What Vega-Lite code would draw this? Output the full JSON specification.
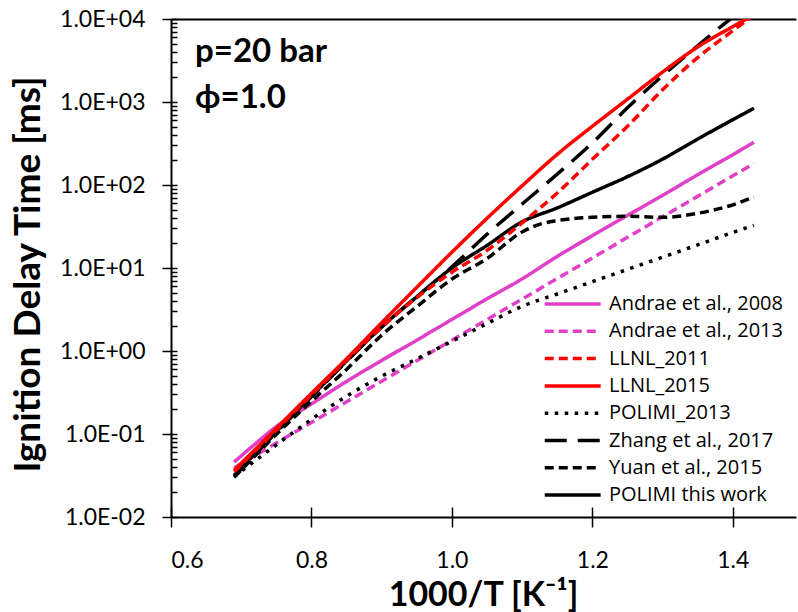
{
  "$schema": "https://vega.github.io/schema/vega-lite/v6.json",
  "width": 625,
  "height": 498,
  "autosize": {"type": "none"},
  "padding": {"left": 171, "top": 19, "right": 2, "bottom": 95},
  "background": "white",
  "config": {"view": {"stroke": null}, "font": "Lato", "axis": {"grid": false}},
  "title": {
    "text": "p=20 bar",
    "subtitle": "ϕ=1.0",
    "anchor": "start",
    "frame": "group",
    "orient": "top",
    "font": "Lato",
    "fontSize": 33,
    "fontWeight": "bold",
    "color": "black",
    "subtitleFont": "Lato",
    "subtitleFontSize": 33,
    "subtitleFontWeight": "bold",
    "subtitleColor": "black",
    "subtitlePadding": 13,
    "dx": 24,
    "offset": -116
  },
  "data": {
    "values": [
      {"s": "Andrae et al., 2008", "x": 0.69, "y": 0.046},
      {"s": "Andrae et al., 2008", "x": 0.7175, "y": 0.073},
      {"s": "Andrae et al., 2008", "x": 0.75, "y": 0.123},
      {"s": "Andrae et al., 2008", "x": 0.8, "y": 0.23},
      {"s": "Andrae et al., 2008", "x": 0.85, "y": 0.43},
      {"s": "Andrae et al., 2008", "x": 0.9, "y": 0.77},
      {"s": "Andrae et al., 2008", "x": 0.95, "y": 1.35},
      {"s": "Andrae et al., 2008", "x": 1.0, "y": 2.4},
      {"s": "Andrae et al., 2008", "x": 1.05, "y": 4.25},
      {"s": "Andrae et al., 2008", "x": 1.1, "y": 7.4},
      {"s": "Andrae et al., 2008", "x": 1.15, "y": 13.8},
      {"s": "Andrae et al., 2008", "x": 1.2, "y": 24.5},
      {"s": "Andrae et al., 2008", "x": 1.25, "y": 43},
      {"s": "Andrae et al., 2008", "x": 1.3, "y": 75},
      {"s": "Andrae et al., 2008", "x": 1.35, "y": 133},
      {"s": "Andrae et al., 2008", "x": 1.4, "y": 232},
      {"s": "Andrae et al., 2008", "x": 1.43, "y": 327},

      {"s": "Andrae et al., 2013", "x": 0.69, "y": 0.039},
      {"s": "Andrae et al., 2013", "x": 0.75, "y": 0.078},
      {"s": "Andrae et al., 2013", "x": 0.8, "y": 0.138},
      {"s": "Andrae et al., 2013", "x": 0.85, "y": 0.244},
      {"s": "Andrae et al., 2013", "x": 0.9, "y": 0.433},
      {"s": "Andrae et al., 2013", "x": 0.95, "y": 0.764},
      {"s": "Andrae et al., 2013", "x": 1.0, "y": 1.35},
      {"s": "Andrae et al., 2013", "x": 1.05, "y": 2.39},
      {"s": "Andrae et al., 2013", "x": 1.1, "y": 4.22},
      {"s": "Andrae et al., 2013", "x": 1.15, "y": 7.47},
      {"s": "Andrae et al., 2013", "x": 1.2, "y": 13.2},
      {"s": "Andrae et al., 2013", "x": 1.25, "y": 23.4},
      {"s": "Andrae et al., 2013", "x": 1.3, "y": 41.4},
      {"s": "Andrae et al., 2013", "x": 1.35, "y": 73},
      {"s": "Andrae et al., 2013", "x": 1.4, "y": 129},
      {"s": "Andrae et al., 2013", "x": 1.43, "y": 181},

      {"s": "POLIMI_2013", "x": 0.69, "y": 0.0307},
      {"s": "POLIMI_2013", "x": 0.75, "y": 0.074},
      {"s": "POLIMI_2013", "x": 0.8, "y": 0.15},
      {"s": "POLIMI_2013", "x": 0.85, "y": 0.285},
      {"s": "POLIMI_2013", "x": 0.9, "y": 0.497},
      {"s": "POLIMI_2013", "x": 0.95, "y": 0.803},
      {"s": "POLIMI_2013", "x": 1.0, "y": 1.31},
      {"s": "POLIMI_2013", "x": 1.05, "y": 2.14},
      {"s": "POLIMI_2013", "x": 1.1, "y": 3.46},
      {"s": "POLIMI_2013", "x": 1.15, "y": 4.86},
      {"s": "POLIMI_2013", "x": 1.2, "y": 6.84},
      {"s": "POLIMI_2013", "x": 1.25, "y": 9.62},
      {"s": "POLIMI_2013", "x": 1.3, "y": 13.5},
      {"s": "POLIMI_2013", "x": 1.35, "y": 19},
      {"s": "POLIMI_2013", "x": 1.4, "y": 26.8},
      {"s": "POLIMI_2013", "x": 1.43, "y": 32.7},

      {"s": "Yuan et al., 2015", "x": 0.69, "y": 0.03},
      {"s": "Yuan et al., 2015", "x": 0.75, "y": 0.099},
      {"s": "Yuan et al., 2015", "x": 0.8, "y": 0.248},
      {"s": "Yuan et al., 2015", "x": 0.85, "y": 0.6},
      {"s": "Yuan et al., 2015", "x": 0.9, "y": 1.55},
      {"s": "Yuan et al., 2015", "x": 0.95, "y": 3.42},
      {"s": "Yuan et al., 2015", "x": 1.0, "y": 7.36},
      {"s": "Yuan et al., 2015", "x": 1.05, "y": 13},
      {"s": "Yuan et al., 2015", "x": 1.1, "y": 27.2},
      {"s": "Yuan et al., 2015", "x": 1.125, "y": 33.6},
      {"s": "Yuan et al., 2015", "x": 1.15, "y": 37.3},
      {"s": "Yuan et al., 2015", "x": 1.2, "y": 40.8},
      {"s": "Yuan et al., 2015", "x": 1.25, "y": 42},
      {"s": "Yuan et al., 2015", "x": 1.3, "y": 40.8},
      {"s": "Yuan et al., 2015", "x": 1.35, "y": 45.6},
      {"s": "Yuan et al., 2015", "x": 1.4, "y": 57.7},
      {"s": "Yuan et al., 2015", "x": 1.43, "y": 71.6},

      {"s": "POLIMI this work", "x": 0.69, "y": 0.0318},
      {"s": "POLIMI this work", "x": 0.75, "y": 0.108},
      {"s": "POLIMI this work", "x": 0.8, "y": 0.285},
      {"s": "POLIMI this work", "x": 0.85, "y": 0.76},
      {"s": "POLIMI this work", "x": 0.9, "y": 1.95},
      {"s": "POLIMI this work", "x": 0.95, "y": 4.5},
      {"s": "POLIMI this work", "x": 1.0, "y": 10},
      {"s": "POLIMI this work", "x": 1.05, "y": 18.7},
      {"s": "POLIMI this work", "x": 1.1, "y": 36},
      {"s": "POLIMI this work", "x": 1.15, "y": 53},
      {"s": "POLIMI this work", "x": 1.2, "y": 81.7},
      {"s": "POLIMI this work", "x": 1.25, "y": 126},
      {"s": "POLIMI this work", "x": 1.3, "y": 205},
      {"s": "POLIMI this work", "x": 1.35, "y": 358},
      {"s": "POLIMI this work", "x": 1.4, "y": 612},
      {"s": "POLIMI this work", "x": 1.43, "y": 840},

      {"s": "Zhang et al., 2017", "x": 0.69, "y": 0.031},
      {"s": "Zhang et al., 2017", "x": 0.75, "y": 0.105},
      {"s": "Zhang et al., 2017", "x": 0.8, "y": 0.28},
      {"s": "Zhang et al., 2017", "x": 0.85, "y": 0.75},
      {"s": "Zhang et al., 2017", "x": 0.9, "y": 1.95},
      {"s": "Zhang et al., 2017", "x": 0.95, "y": 4.5},
      {"s": "Zhang et al., 2017", "x": 1.0, "y": 10.3},
      {"s": "Zhang et al., 2017", "x": 1.05, "y": 25.5},
      {"s": "Zhang et al., 2017", "x": 1.1, "y": 59},
      {"s": "Zhang et al., 2017", "x": 1.15, "y": 135},
      {"s": "Zhang et al., 2017", "x": 1.2, "y": 322},
      {"s": "Zhang et al., 2017", "x": 1.25, "y": 851},
      {"s": "Zhang et al., 2017", "x": 1.3, "y": 2075},
      {"s": "Zhang et al., 2017", "x": 1.35, "y": 4764},
      {"s": "Zhang et al., 2017", "x": 1.4, "y": 10500},
      {"s": "Zhang et al., 2017", "x": 1.43, "y": 16000},

      {"s": "LLNL_2011", "x": 0.69, "y": 0.035},
      {"s": "LLNL_2011", "x": 0.75, "y": 0.112},
      {"s": "LLNL_2011", "x": 0.8, "y": 0.295},
      {"s": "LLNL_2011", "x": 0.85, "y": 0.77},
      {"s": "LLNL_2011", "x": 0.9, "y": 1.95},
      {"s": "LLNL_2011", "x": 0.95, "y": 4.4},
      {"s": "LLNL_2011", "x": 1.0, "y": 8.9},
      {"s": "LLNL_2011", "x": 1.05, "y": 16.3},
      {"s": "LLNL_2011", "x": 1.1, "y": 35},
      {"s": "LLNL_2011", "x": 1.15, "y": 80},
      {"s": "LLNL_2011", "x": 1.2, "y": 204},
      {"s": "LLNL_2011", "x": 1.25, "y": 509},
      {"s": "LLNL_2011", "x": 1.3, "y": 1403},
      {"s": "LLNL_2011", "x": 1.35, "y": 3430},
      {"s": "LLNL_2011", "x": 1.4, "y": 7220},
      {"s": "LLNL_2011", "x": 1.43, "y": 11200},

      {"s": "LLNL_2015", "x": 0.69, "y": 0.0366},
      {"s": "LLNL_2015", "x": 0.75, "y": 0.117},
      {"s": "LLNL_2015", "x": 0.8, "y": 0.309},
      {"s": "LLNL_2015", "x": 0.85, "y": 0.805},
      {"s": "LLNL_2015", "x": 0.9, "y": 2.19},
      {"s": "LLNL_2015", "x": 0.95, "y": 5.85},
      {"s": "LLNL_2015", "x": 1.0, "y": 15.5},
      {"s": "LLNL_2015", "x": 1.05, "y": 39.7},
      {"s": "LLNL_2015", "x": 1.1, "y": 97.8},
      {"s": "LLNL_2015", "x": 1.15, "y": 234},
      {"s": "LLNL_2015", "x": 1.2, "y": 510},
      {"s": "LLNL_2015", "x": 1.25, "y": 1080},
      {"s": "LLNL_2015", "x": 1.3, "y": 2296},
      {"s": "LLNL_2015", "x": 1.35, "y": 4600},
      {"s": "LLNL_2015", "x": 1.4, "y": 8100},
      {"s": "LLNL_2015", "x": 1.43, "y": 11200}
    ]
  },
  "layer": [
    {
      "mark": {"type": "line", "strokeWidth": 3.5, "interpolate": "monotone", "clip": true},
      "encoding": {
        "x": {
          "field": "x", "type": "quantitative",
          "scale": {"domain": [0.6, 1.49], "zero": false, "nice": false},
          "axis": {
            "orient": "bottom",
            "values": [0.6, 0.8, 1.0, 1.2, 1.4],
            "format": ".1f",
            "labelFont": "Lato", "labelFontSize": 23, "labelColor": "black",
            "labelPadding": 22,
            "tickSize": 10, "tickWidth": 1.5, "tickColor": "black",
            "domainColor": "black", "domainWidth": 2,
            "title": "1000/T [K⁻¹]",
            "titleFont": "Lato", "titleFontSize": 34, "titleFontWeight": "bold", "titleColor": "black",
            "titleX": 312, "titleY": 78, "titleAlign": "center", "titleBaseline": "middle",
            "grid": false
          }
        },
        "y": {
          "field": "y", "type": "quantitative",
          "scale": {"type": "log", "domain": [0.01, 10000], "nice": false},
          "axis": {
            "orient": "left",
            "values": [0.01, 0.1, 1, 10, 100, 1000, 10000],
            "labelExpr": "'1.0E' + (datum.value >= 1 ? '+' : '-') + (abs(round(log(datum.value)/LN10)) < 10 ? '0' : '') + abs(round(log(datum.value)/LN10))",
            "labelFont": "Lato", "labelFontSize": 23, "labelColor": "black",
            "labelPadding": 17,
            "tickSize": 9, "tickWidth": 1.5, "tickColor": "black",
            "domainColor": "black", "domainWidth": 2,
            "title": "Ignition Delay Time [ms]",
            "titleFont": "Lato", "titleFontSize": 37, "titleFontWeight": "bold", "titleColor": "black",
            "titleX": -143, "titleY": 255, "titleAngle": -90, "titleAlign": "center", "titleBaseline": "middle",
            "grid": false
          }
        },
        "color": {
          "field": "s", "type": "nominal",
          "scale": {
            "domain": ["Andrae et al., 2008", "Andrae et al., 2013", "LLNL_2011", "LLNL_2015", "POLIMI_2013", "Zhang et al., 2017", "Yuan et al., 2015", "POLIMI this work"],
            "range": ["#E040C8", "#E040C8", "#FF0000", "#FF0000", "#000000", "#000000", "#000000", "#000000"]
          },
          "legend": {
            "orient": "none", "legendX": 391.7, "legendY": 275, "title": null,
            "symbolType": "M-5,0H5", "symbolSize": 125, "symbolStrokeWidth": 3.5,
            "labelFont": "Open Sans", "labelFontSize": 20, "labelColor": "black", "labelLimit": 300,
            "labelOffset": 26.3, "rowPadding": 7.3, "padding": 0
          }
        },
        "strokeDash": {
          "field": "s", "type": "nominal",
          "scale": {
            "domain": ["Andrae et al., 2008", "Andrae et al., 2013", "LLNL_2011", "LLNL_2015", "POLIMI_2013", "Zhang et al., 2017", "Yuan et al., 2015", "POLIMI this work"],
            "range": [[1, 0], [9, 5], [9, 5], [1, 0], [3.5, 6.5], [22, 11], [9, 5], [1, 0]]
          },
          "legend": {
            "orient": "none", "legendX": 391.7, "legendY": 275, "title": null,
            "symbolType": "M-5,0H5", "symbolSize": 125, "symbolStrokeWidth": 3.5,
            "labelFont": "Open Sans", "labelFontSize": 20, "labelColor": "black", "labelLimit": 300,
            "labelOffset": 26.3, "rowPadding": 7.3, "padding": 0
          }
        }
      }
    },
    {
      "mark": {"type": "point", "opacity": 0},
      "encoding": {
        "x": {
          "field": "x", "type": "quantitative",
          "scale": {"domain": [0.6, 1.49], "zero": false, "nice": false},
          "axis": {"orient": "bottom", "values": [0.6, 0.8, 1.0, 1.2, 1.4], "labels": false, "domain": false, "tickSize": -10, "tickWidth": 1.5, "tickColor": "black", "title": null, "grid": false}
        },
        "y": {
          "field": "y", "type": "quantitative",
          "scale": {"type": "log", "domain": [0.01, 10000], "nice": false},
          "axis": {
            "orient": "left",
            "values": [0.01, 0.02, 0.03, 0.04, 0.05, 0.06, 0.07, 0.08, 0.09, 0.1, 0.2, 0.3, 0.4, 0.5, 0.6, 0.7, 0.8, 0.9, 1, 2, 3, 4, 5, 6, 7, 8, 9, 10, 20, 30, 40, 50, 60, 70, 80, 90, 100, 200, 300, 400, 500, 600, 700, 800, 900, 1000, 2000, 3000, 4000, 5000, 6000, 7000, 8000, 9000, 10000],
            "labels": false, "domain": false, "tickSize": -6, "tickWidth": 1.5, "tickColor": "black", "title": null, "grid": false
          }
        }
      }
    },
    {
      "mark": {"type": "point", "opacity": 0},
      "encoding": {
        "x": {
          "field": "x", "type": "quantitative",
          "scale": {"domain": [0.6, 1.49], "zero": false, "nice": false},
          "axis": {"orient": "top", "labels": false, "ticks": false, "domain": true, "domainColor": "black", "domainWidth": 2, "title": null, "grid": false}
        },
        "y": {
          "field": "y", "type": "quantitative",
          "scale": {"type": "log", "domain": [0.01, 10000], "nice": false},
          "axis": null
        }
      }
    }
  ],
  "resolve": {"axis": {"x": "independent", "y": "independent"}}
}
